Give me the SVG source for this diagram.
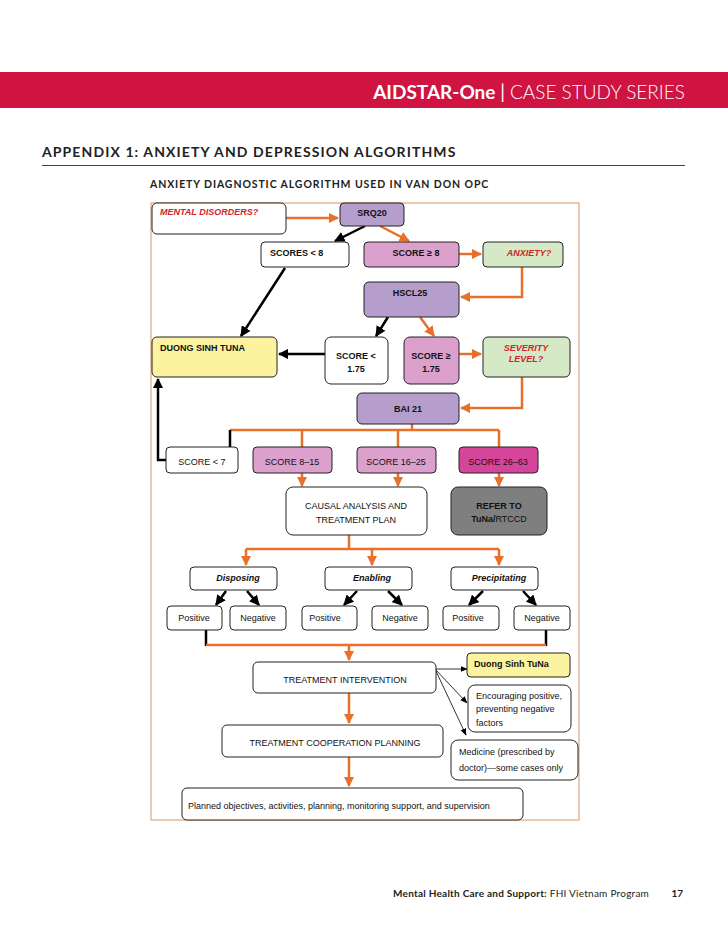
<svg xmlns="http://www.w3.org/2000/svg" width="728" height="943" viewBox="0 0 728 943">
<style>
.bx{stroke:#222;stroke-width:1}
.t{font-family:"Liberation Sans",Arial,sans-serif;font-size:9px;fill:#111}
.b{font-weight:bold}
.ri{fill:#d2232a;font-style:italic;font-weight:bold}
.o{fill:none;stroke:#e8702a;stroke-width:2.5}
.k{fill:none;stroke:#000;stroke-width:2.5}
.th{fill:none;stroke:#000;stroke-width:0.8}
.hd{font-family:Lato,"Open Sans",sans-serif}
</style>
<defs>
<marker id="ao" viewBox="0 0 10 10" refX="9" refY="5" markerWidth="4.2" markerHeight="4.2" orient="auto"><path d="M0,0L10,5L0,10z" fill="#e8702a"/></marker>
<marker id="ak" viewBox="0 0 10 10" refX="9" refY="5" markerWidth="4.2" markerHeight="4.2" orient="auto"><path d="M0,0L10,5L0,10z" fill="#000"/></marker>
<marker id="at" viewBox="0 0 10 10" refX="9" refY="5" markerWidth="9" markerHeight="9" orient="auto"><path d="M0,1L10,5L0,9z" fill="#000"/></marker>
</defs>
<rect width="728" height="943" fill="#fff"/>
<rect x="0" y="72" width="728" height="36" fill="#cf1442"/>
<text x="685" y="99" text-anchor="end" class="hd" font-size="19" fill="#fff"><tspan font-weight="bold">AIDSTAR-One</tspan> | <tspan font-weight="300">CASE STUDY SERIES</tspan></text>
<text x="42" y="157" class="hd" font-size="14" font-weight="bold" letter-spacing="1.1" fill="#222">APPENDIX 1: ANXIETY AND DEPRESSION ALGORITHMS</text>
<line x1="42" y1="165.5" x2="685" y2="165.5" stroke="#444" stroke-width="1"/>
<text x="150" y="188" class="hd" font-size="10.5" font-weight="bold" letter-spacing="0.9" fill="#222">ANXIETY DIAGNOSTIC ALGORITHM USED IN VAN DON OPC</text>
<rect x="151" y="203" width="428" height="617" fill="none" stroke="#d9925f" stroke-width="1"/>

<g id="connectors">
<path class="o" d="M286,218H338" marker-end="url(#ao)"/>
<path class="k" d="M365,226L335,241" marker-end="url(#ak)"/>
<path class="o" d="M380,226L409,241" marker-end="url(#ao)"/>
<path class="o" d="M459,254H481" marker-end="url(#ao)"/>
<path class="o" d="M522,267V297H461" marker-end="url(#ao)"/>
<path class="k" d="M285,268L241,336" marker-end="url(#ak)"/>
<path class="k" d="M388,317L376,336" marker-end="url(#ak)"/>
<path class="o" d="M420,317L434,336" marker-end="url(#ao)"/>
<path class="k" d="M325,354H279" marker-end="url(#ak)"/>
<path class="o" d="M459,354H481" marker-end="url(#ao)"/>
<path class="o" d="M522,377V408H461" marker-end="url(#ao)"/>
<path class="o" d="M412,424V430M230,430H499M302,430V447M398,430V447M499,430V447"/>
<path class="k" d="M230,430V447"/>
<path class="k" d="M166,460H158V379" marker-end="url(#ak)"/>
<path class="o" d="M302,473V486" marker-end="url(#ao)"/>
<path class="o" d="M398,473V486" marker-end="url(#ao)"/>
<path class="o" d="M499,473V486" marker-end="url(#ao)"/>
<path class="o" d="M349,535V549M246,549H499"/>
<path class="o" d="M246,549V565" marker-end="url(#ao)"/>
<path class="o" d="M372,549V565" marker-end="url(#ao)"/>
<path class="o" d="M499,549V565" marker-end="url(#ao)"/>
<path class="k" d="M226,591L216,605" marker-end="url(#ak)"/>
<path class="k" d="M247,591L259,605" marker-end="url(#ak)"/>
<path class="k" d="M357,591L344,605" marker-end="url(#ak)"/>
<path class="k" d="M388,591L402,605" marker-end="url(#ak)"/>
<path class="k" d="M483,591L469,605" marker-end="url(#ak)"/>
<path class="k" d="M523,591L536,605" marker-end="url(#ak)"/>
<path class="k" d="M206,630V646M546,630V646"/>
<path class="o" d="M206,645H546"/>
<path class="o" d="M349,645V660" marker-end="url(#ao)"/>
<path class="o" d="M349,693V723" marker-end="url(#ao)"/>
<path class="o" d="M349,757V786" marker-end="url(#ao)"/>
<path class="th" d="M435,669H467" marker-end="url(#at)"/>
<path class="th" d="M435,669L467,703" marker-end="url(#at)"/>
<path class="th" d="M435,669L466,735" marker-end="url(#at)"/>
</g>

<g id="mental"><rect class="bx" x="152" y="203" width="134" height="31" rx="5" fill="#fff"/><text class="t ri" x="160" y="215">MENTAL DISORDERS?</text></g>
<g id="srq20"><rect class="bx" x="340" y="203" width="64" height="23" rx="4" fill="#b59dcc"/><text class="t b" x="372" y="216" text-anchor="middle">SRQ20</text></g>
<g id="scores8"><rect class="bx" x="261" y="242" width="88" height="25" rx="4" fill="#fff"/><text class="t b" x="270" y="256">SCORES &lt; 8</text></g>
<g id="score8"><rect class="bx" x="364" y="242" width="95" height="25" rx="4" fill="#dca0cc"/><text class="t b" x="416" y="256" text-anchor="middle">SCORE ≥ 8</text></g>
<g id="anxiety"><rect class="bx" x="483" y="242" width="80" height="25" rx="4" fill="#d6e9c6"/><text class="t ri" x="529" y="256" text-anchor="middle">ANXIETY?</text></g>
<g id="hscl25"><rect class="bx" x="364" y="282" width="95" height="35" rx="5" fill="#b59dcc"/><text class="t b" x="410" y="296" text-anchor="middle">HSCL25</text></g>
<g id="duong"><rect class="bx" x="152" y="337" width="125" height="40" rx="5" fill="#fbf3a0"/><text class="t b" x="160" y="351">DUONG SINH TUNA</text></g>
<g id="score175a"><rect class="bx" x="325" y="337" width="63" height="47" rx="6" fill="#fff"/><text class="t b" x="356" y="359" text-anchor="middle">SCORE &lt;</text><text class="t b" x="356" y="372" text-anchor="middle">1.75</text></g>
<g id="score175b"><rect class="bx" x="404" y="337" width="55" height="47" rx="6" fill="#dca0cc"/><text class="t b" x="431" y="359" text-anchor="middle">SCORE ≥</text><text class="t b" x="431" y="372" text-anchor="middle">1.75</text></g>
<g id="severity"><rect class="bx" x="483" y="337" width="87" height="40" rx="5" fill="#d6e9c6"/><text class="t ri" x="526" y="351" text-anchor="middle">SEVERITY</text><text class="t ri" x="526" y="362" text-anchor="middle">LEVEL?</text></g>
<g id="bai21"><rect class="bx" x="357" y="393" width="102" height="31" rx="5" fill="#b59dcc"/><text class="t b" x="408" y="412" text-anchor="middle">BAI 21</text></g>
<g id="s7"><rect class="bx" x="166" y="447" width="72" height="26" rx="4" fill="#fff"/><text class="t" x="202" y="465" text-anchor="middle">SCORE &lt; 7</text></g>
<g id="s815"><rect class="bx" x="253" y="447" width="79" height="26" rx="4" fill="#dca0cc"/><text class="t" x="292" y="465" text-anchor="middle">SCORE 8–15</text></g>
<g id="s1625"><rect class="bx" x="357" y="447" width="79" height="26" rx="4" fill="#dca0cc"/><text class="t" x="396" y="465" text-anchor="middle">SCORE 16–25</text></g>
<g id="s2663"><rect class="bx" x="459" y="447" width="79" height="26" rx="4" fill="#d5469b"/><text class="t" x="498" y="465" text-anchor="middle">SCORE 26–63</text></g>
<g id="causal"><rect class="bx" x="286" y="487" width="141" height="48" rx="7" fill="#fff"/><text class="t" font-size="7.5" x="356" y="509" text-anchor="middle">CAUSAL ANALYSIS AND</text><text class="t" font-size="7.5" x="356" y="523" text-anchor="middle">TREATMENT PLAN</text></g>
<g id="refer"><rect class="bx" x="451" y="487" width="96" height="48" rx="7" fill="#7f7f7f"/><text class="t b" x="499" y="509" text-anchor="middle">REFER TO</text><text class="t" x="499" y="522" text-anchor="middle"><tspan font-weight="bold">TuNa/</tspan>RTCCD</text></g>
<g id="disposing"><rect class="bx" x="190" y="567" width="87" height="23" rx="4" fill="#fff"/><text class="t b" font-style="italic" x="238" y="581" text-anchor="middle">Disposing</text></g>
<g id="enabling"><rect class="bx" x="325" y="567" width="87" height="23" rx="4" fill="#fff"/><text class="t b" font-style="italic" x="372" y="581" text-anchor="middle">Enabling</text></g>
<g id="precip"><rect class="bx" x="451" y="567" width="87" height="23" rx="4" fill="#fff"/><text class="t b" font-style="italic" x="499" y="581" text-anchor="middle">Precipitating</text></g>
<g id="pos1"><rect class="bx" x="167" y="606" width="55" height="24" rx="4" fill="#fff"/><text class="t" x="194" y="621" text-anchor="middle">Positive</text></g>
<g id="neg1"><rect class="bx" x="230" y="606" width="56" height="24" rx="4" fill="#fff"/><text class="t" x="258" y="621" text-anchor="middle">Negative</text></g>
<g id="pos2"><rect class="bx" x="302" y="606" width="55" height="24" rx="4" fill="#fff"/><text class="t" x="325" y="621" text-anchor="middle">Positive</text></g>
<g id="neg2"><rect class="bx" x="372" y="606" width="56" height="24" rx="4" fill="#fff"/><text class="t" x="400" y="621" text-anchor="middle">Negative</text></g>
<g id="pos3"><rect class="bx" x="443" y="606" width="56" height="24" rx="4" fill="#fff"/><text class="t" x="468" y="621" text-anchor="middle">Positive</text></g>
<g id="neg3"><rect class="bx" x="514" y="606" width="56" height="24" rx="4" fill="#fff"/><text class="t" x="542" y="621" text-anchor="middle">Negative</text></g>
<g id="interv"><rect class="bx" x="253" y="662" width="183" height="31" rx="5" fill="#fff"/><text class="t" x="345" y="683" text-anchor="middle">TREATMENT INTERVENTION</text></g>
<g id="coop"><rect class="bx" x="222" y="725" width="221" height="32" rx="5" fill="#fff"/><text class="t" x="335" y="746" text-anchor="middle">TREATMENT COOPERATION PLANNING</text></g>
<g id="planned"><rect class="bx" x="182" y="788" width="341" height="32" rx="5" fill="#fff"/><text class="t" font-size="8.6" x="188" y="809">Planned objectives, activities, planning, monitoring support, and supervision</text></g>
<g id="duong2"><rect class="bx" x="467" y="653" width="103" height="24" rx="4" fill="#fbf3a0"/><text class="t b" x="474" y="667">Duong Sinh TuNa</text></g>
<g id="encour"><rect class="bx" x="468" y="685" width="103" height="47" rx="7" fill="#fff"/><text class="t" font-size="8.6" x="476" y="699">Encouraging positive,</text><text class="t" font-size="8.6" x="476" y="712">preventing negative</text><text class="t" font-size="8.6" x="476" y="726">factors</text></g>
<g id="medicine"><rect class="bx" x="451" y="740" width="127" height="40" rx="7" fill="#fff"/><text class="t" font-size="8.6" x="459" y="755">Medicine (prescribed by</text><text class="t" font-size="8.6" x="459" y="771">doctor)—some cases only</text></g>

<text x="393" y="897" class="hd" font-size="10" letter-spacing="0.25" fill="#222"><tspan font-weight="bold">Mental Health Care and Support:</tspan> FHI Vietnam Program</text>
<text x="683" y="897" text-anchor="end" class="hd" font-size="10" font-weight="bold" fill="#222">17</text>
</svg>
